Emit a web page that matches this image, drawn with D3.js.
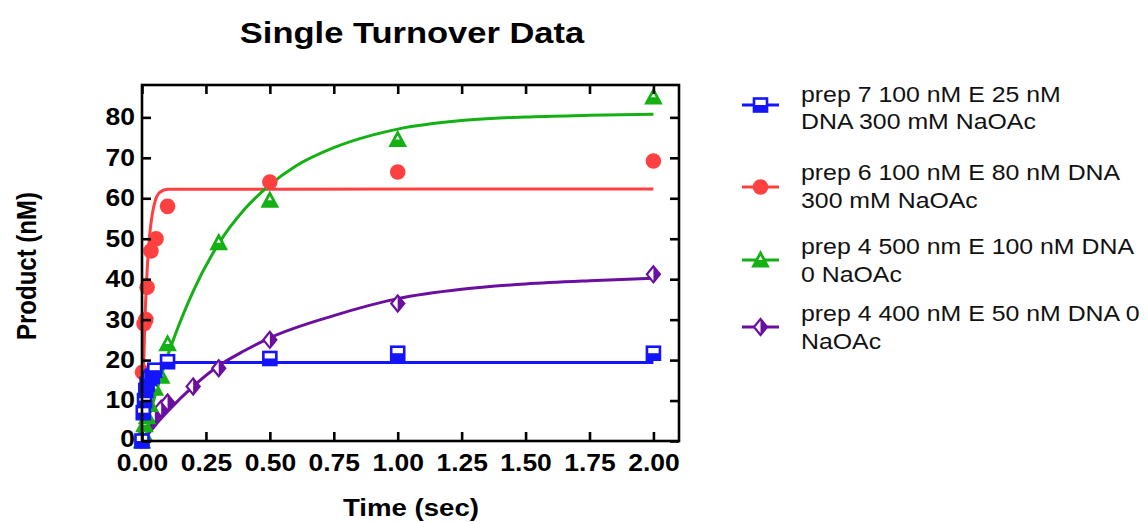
<!DOCTYPE html>
<html><head><meta charset="utf-8">
<script src="https://cdn.jsdelivr.net/npm/d3@7"></script>
<style>html,body{margin:0;padding:0;background:#fff;overflow:hidden}</style>
</head><body>
<svg id="chart" width="1148" height="523"></svg>
<script>
// ---------- data ----------
const chartTitle = "Single Turnover Data";
const xTitle = "Time (sec)";
const yTitle = "Product (nM)";
const xTicks = [0, 0.25, 0.5, 0.75, 1.0, 1.25, 1.5, 1.75, 2.0];
const yTicks = [0, 10, 20, 30, 40, 50, 60, 70, 80];

const seriesLabels = [
  ["prep 7 100 nM E 25 nM", "DNA 300 mM NaOAc"],
  ["prep 6 100 nM E 80 nM DNA", "300 mM NaOAc"],
  ["prep 4 500 nm E 100 nM DNA", "0 NaOAc"],
  ["prep 4 400 nM E 50 nM DNA 0", "NaOAc"]
];

// measured points
const blueT = [0, 0.005, 0.01, 0.015, 0.02, 0.03, 0.04, 0.05, 0.1, 0.5, 1, 2];
const blueY = [0, 7, 10, 12.5, 14, 15.5, 16, 17.5, 19.6, 20.4, 21.7, 21.7];
const redT = [0, 0.002, 0.008, 0.015, 0.02, 0.035, 0.055, 0.1, 0.5, 1, 2];
const redY = [0, 17, 29, 30, 38, 47, 50, 58, 64, 66.5, 69.2];
const greenT = [0, 0.005, 0.01, 0.02, 0.03, 0.05, 0.075, 0.1, 0.3, 0.5, 1, 2];
const greenY = [0, 2, 4, 6, 9, 13, 16, 24, 49, 59.5, 74.5, 85];
const purpleT = [0.03, 0.05, 0.075, 0.1, 0.2, 0.3, 0.5, 1, 2];
const purpleY = [4, 6.5, 8, 9.5, 13.5, 18, 25, 34, 41.2];

// fitted curves
const blueFitT = [0, 0.005, 0.01, 0.02, 0.03, 0.04, 0.05, 0.07, 0.1, 2.0];
const blueFitY = [0, 4.5, 8, 12.5, 15.5, 17.2, 18.2, 19, 19.4, 19.4];
const redFitT = [0, 0.005, 0.01, 0.02, 0.03, 0.04, 0.05, 0.07, 0.1, 2.0];
const redFitY = [0, 15, 27, 42, 51, 56, 59, 61.5, 62.2, 62.3];
const greenFitT = [0, 0.05, 0.1, 0.2, 0.3, 0.4, 0.5, 0.6, 0.75, 0.9, 1.0, 1.25, 1.5, 1.75, 2];
const greenFitY = [0, 11, 21, 37, 48.8, 57.2, 63.3, 67.9, 72.5, 75.6, 77.1, 79.2, 80.1, 80.5, 80.8];
const purpleFitT = [0, 0.05, 0.1, 0.2, 0.3, 0.4, 0.5, 0.75, 1, 1.25, 1.5, 1.75, 2];
const purpleFitY = [0, 3.8, 7.3, 13.5, 18.6, 22.3, 25.5, 31, 35.2, 37.5, 38.8, 39.6, 40.2];

const seriesColors = ["#1414ff", "#ff4040", "#14b014", "#6a0fa0"];
const seriesShapes = ["square", "circle", "triangle", "diamond"];

// ---------- build ----------
const series = [
  {t: blueT, y: blueY, ft: blueFitT, fy: blueFitY},
  {t: redT, y: redY, ft: redFitT, fy: redFitY},
  {t: greenT, y: greenY, ft: greenFitT, fy: greenFitY},
  {t: purpleT, y: purpleY, ft: purpleFitT, fy: purpleFitY}
].map((s, i) => ({
  pts: s.t.map((t, j) => ({t, v: s.y[j]})),
  fit: s.ft.map((t, j) => ({t, v: s.fy[j]})),
  color: seriesColors[i], shape: seriesShapes[i], label: seriesLabels[i]
}));

const SX = 1.15; // horizontal stretch of text as in the reference
const FONT = "'Liberation Sans', Arial, sans-serif";
const svg = d3.select("#chart");
const L = 142, R = 679, T = 85, B = 441;
const x = d3.scaleLinear().domain([0, 2.1]).range([L, R]);
const y = d3.scaleLinear().domain([0, 88]).range([B, T]);

// curves
const line = d3.line().x(d => x(d.t)).y(d => y(d.v)).curve(d3.curveMonotoneX);
const curveG = svg.append("g");
series.forEach(s => {
  curveG.append("path").attr("d", line(s.fit)).attr("fill", "none")
    .attr("stroke", s.color).attr("stroke-width", 3);
});

function drawMarker(g, shape, color, cx, cy) {
  const m = g.append("g").attr("transform", `translate(${cx},${cy})`);
  if (shape === "square") {
    m.append("rect").attr("x", -6.5).attr("y", -6.5).attr("width", 13).attr("height", 13)
      .attr("fill", "#fff").attr("stroke", color).attr("stroke-width", 2.6);
    m.append("rect").attr("x", -6.5).attr("y", 0).attr("width", 13).attr("height", 6.5).attr("fill", color);
  } else if (shape === "circle") {
    m.append("circle").attr("r", 7.8).attr("fill", color);
  } else if (shape === "triangle") {
    m.append("path").attr("d", "M0,-7 L7,6 L-7,6 Z")
      .attr("fill", "#fff").attr("stroke", color).attr("stroke-width", 2.8).attr("stroke-linejoin", "miter");
    m.append("path").attr("d", "M-3.5,0 L3.5,0 L7,6 L-7,6 Z").attr("fill", color);
  } else if (shape === "diamond") {
    m.append("path").attr("d", "M0,-8 L6.5,0 L0,8 L-6.5,0 Z")
      .attr("fill", "#fff").attr("stroke", color).attr("stroke-width", 2.2);
    m.append("path").attr("d", "M0,-8 L6.5,0 L0,8 Z").attr("fill", color);
  }
}

// points (drawn purple, green, red, blue so blue is on top)
const ptsG = svg.append("g");
[3, 2, 1, 0].forEach(i => {
  const s = series[i];
  s.pts.forEach(p => drawMarker(ptsG, s.shape, s.color, x(p.t), y(p.v)));
});

// frame and axes
const ax = svg.append("g");
const xb = ax.append("g").attr("transform", `translate(0,${B})`)
  .call(d3.axisBottom(x).tickValues(xTicks).tickSize(-9).tickPadding(14).tickFormat(d3.format(".2f")));
const yl = ax.append("g").attr("transform", `translate(${L},0)`)
  .call(d3.axisLeft(y).tickValues(yTicks).tickSize(-9).tickPadding(7).tickFormat(d3.format("d")));
const xt = ax.append("g").attr("transform", `translate(0,${T})`)
  .call(d3.axisTop(x).tickValues(xTicks).tickSize(-9).tickFormat(""));
const yr = ax.append("g").attr("transform", `translate(${R},0)`)
  .call(d3.axisRight(y).tickValues(yTicks).tickSize(-9).tickFormat(""));
[xb, yl, xt, yr].forEach(g => {
  g.selectAll("path.domain").attr("stroke", "#000").attr("stroke-width", 2.6).attr("d", null);
  g.selectAll(".tick line").attr("stroke", "#000").attr("stroke-width", 2.6);
});
ax.append("rect").attr("x", L).attr("y", T).attr("width", R - L).attr("height", B - T)
  .attr("fill", "none").attr("stroke", "#000").attr("stroke-width", 2.6);
xb.selectAll(".tick text").attr("font-family", FONT).attr("font-weight", "bold")
  .attr("font-size", 23).attr("fill", "#000").attr("transform", `scale(${SX},1)`);
yl.selectAll(".tick text").attr("font-family", FONT).attr("font-weight", "bold")
  .attr("font-size", 23).attr("fill", "#000").attr("x", -7 / SX).attr("transform", `scale(${SX},1)`);
// the bottom "0" label sits a little higher, as in the reference
yl.selectAll(".tick text").filter(d => d === 0).attr("dy", "0.22em");

// titles
svg.append("text").attr("transform", `translate(412,43) scale(${SX},1)`)
  .attr("text-anchor", "middle").attr("font-family", FONT).attr("font-weight", "bold")
  .attr("font-size", 30).attr("fill", "#000").text(chartTitle);
svg.append("text").attr("transform", `translate(411,516) scale(${SX},1)`)
  .attr("text-anchor", "middle").attr("font-family", FONT).attr("font-weight", "bold")
  .attr("font-size", 24).attr("fill", "#000").text(xTitle);
svg.append("text").attr("transform", `translate(36,266) rotate(-90) scale(1,${SX})`)
  .attr("text-anchor", "middle").attr("font-family", FONT).attr("font-weight", "bold")
  .attr("font-size", 24).attr("fill", "#000").text(yTitle);

// legend
const legY = [105, 187, 260, 327];
const legTextY = [[101.7, 129.3], [180, 208.3], [254, 282.3], [320.7, 349]];
const leg = svg.append("g");
series.forEach((s, i) => {
  leg.append("line").attr("x1", 742).attr("x2", 779).attr("y1", legY[i]).attr("y2", legY[i])
    .attr("stroke", s.color).attr("stroke-width", 3);
  drawMarker(leg, s.shape, s.color, 760.5, legY[i]);
  s.label.forEach((t, k) => {
    leg.append("text").attr("transform", `translate(801,${legTextY[i][k]}) scale(1.13,1)`)
      .attr("font-family", FONT).attr("font-size", 22).attr("fill", "#111").text(t);
  });
});
</script>
</body></html>
